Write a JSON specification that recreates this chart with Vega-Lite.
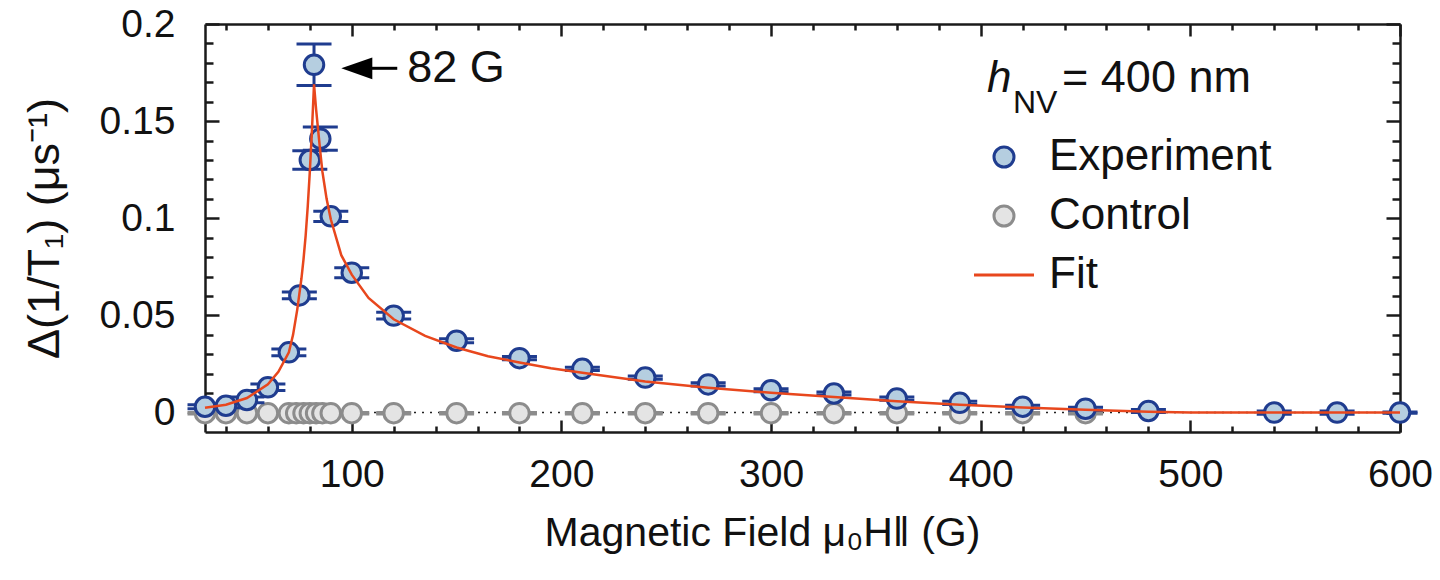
{
  "$schema": "https://vega.github.io/schema/vega-lite/v6.json",
  "width": 1195,
  "height": 408,
  "autosize": {"type": "none"},
  "padding": {"left": 205, "top": 24, "right": 40, "bottom": 148},
  "background": "white",
  "config": {"view": {"stroke": null}, "font": "Liberation Sans",
    "legend": {"orient": "none", "legendX": 777, "legendY": 111, "title": null, "padding": 0, "labelFontSize": 44, "labelFont": "Liberation Sans", "labelColor": "#111111", "labelLimit": 0, "symbolSize": 400, "symbolStrokeWidth": 3, "rowPadding": 15, "labelOffset": 23}},
  "datasets": {
    "experiment": [
      {"x": 30, "v": 0.003, "e": 0.001, "series": "Experiment"},
      {"x": 40, "v": 0.0035, "e": 0.001, "series": "Experiment"},
      {"x": 50, "v": 0.0065, "e": 0.0015, "series": "Experiment"},
      {"x": 60, "v": 0.013, "e": 0.0017, "series": "Experiment"},
      {"x": 70, "v": 0.031, "e": 0.0017, "series": "Experiment"},
      {"x": 75, "v": 0.0603, "e": 0.0017, "series": "Experiment"},
      {"x": 80, "v": 0.130, "e": 0.0047, "series": "Experiment"},
      {"x": 82, "v": 0.179, "e": 0.0107, "series": "Experiment"},
      {"x": 85, "v": 0.141, "e": 0.006, "series": "Experiment"},
      {"x": 90, "v": 0.101, "e": 0.0026, "series": "Experiment"},
      {"x": 100, "v": 0.072, "e": 0.0026, "series": "Experiment"},
      {"x": 120, "v": 0.0499, "e": 0.0018, "series": "Experiment"},
      {"x": 150, "v": 0.037, "e": 0.001, "series": "Experiment"},
      {"x": 180, "v": 0.028, "e": 0.0008, "series": "Experiment"},
      {"x": 210, "v": 0.0225, "e": 0.0008, "series": "Experiment"},
      {"x": 240, "v": 0.018, "e": 0.0008, "series": "Experiment"},
      {"x": 270, "v": 0.0145, "e": 0.0008, "series": "Experiment"},
      {"x": 300, "v": 0.0115, "e": 0.0008, "series": "Experiment"},
      {"x": 330, "v": 0.0098, "e": 0.0008, "series": "Experiment"},
      {"x": 360, "v": 0.0072, "e": 0.0008, "series": "Experiment"},
      {"x": 390, "v": 0.005, "e": 0.0008, "series": "Experiment"},
      {"x": 420, "v": 0.003, "e": 0.0008, "series": "Experiment"},
      {"x": 450, "v": 0.002, "e": 0.0008, "series": "Experiment"},
      {"x": 480, "v": 0.0008, "e": 0.0008, "series": "Experiment"},
      {"x": 540, "v": 0.0, "e": 0.0008, "series": "Experiment"},
      {"x": 570, "v": 0.0, "e": 0.0008, "series": "Experiment"},
      {"x": 600, "v": 0.0, "e": 0.0003, "series": "Experiment"}
    ],
    "control": [
      {"x": 30, "v": -0.0003, "e": 0.0004, "series": "Control"},
      {"x": 40, "v": -0.0003, "e": 0.0004, "series": "Control"},
      {"x": 50, "v": -0.0003, "e": 0.0004, "series": "Control"},
      {"x": 60, "v": -0.0003, "e": 0.0004, "series": "Control"},
      {"x": 70, "v": -0.0003, "e": 0.0004, "series": "Control"},
      {"x": 73.5, "v": -0.0003, "e": 0.0004, "series": "Control"},
      {"x": 77, "v": -0.0003, "e": 0.0004, "series": "Control"},
      {"x": 80, "v": -0.0003, "e": 0.0004, "series": "Control"},
      {"x": 83, "v": -0.0003, "e": 0.0004, "series": "Control"},
      {"x": 86, "v": -0.0003, "e": 0.0004, "series": "Control"},
      {"x": 90, "v": -0.0003, "e": 0.0004, "series": "Control"},
      {"x": 100, "v": -0.0003, "e": 0.0004, "series": "Control"},
      {"x": 120, "v": -0.0003, "e": 0.0004, "series": "Control"},
      {"x": 150, "v": -0.0003, "e": 0.0004, "series": "Control"},
      {"x": 180, "v": -0.0003, "e": 0.0004, "series": "Control"},
      {"x": 210, "v": -0.0003, "e": 0.0004, "series": "Control"},
      {"x": 240, "v": -0.0003, "e": 0.0004, "series": "Control"},
      {"x": 270, "v": -0.0003, "e": 0.0004, "series": "Control"},
      {"x": 300, "v": -0.0003, "e": 0.0004, "series": "Control"},
      {"x": 330, "v": -0.0003, "e": 0.0004, "series": "Control"},
      {"x": 360, "v": -0.0003, "e": 0.0004, "series": "Control"},
      {"x": 390, "v": -0.0003, "e": 0.0004, "series": "Control"},
      {"x": 420, "v": -0.0003, "e": 0.0004, "series": "Control"},
      {"x": 450, "v": -0.0003, "e": 0.0004, "series": "Control"}
    ],
    "fit": [
      {"x": 30, "v": 0.0025, "series": "Fit"},
      {"x": 40, "v": 0.004, "series": "Fit"},
      {"x": 50, "v": 0.0075, "series": "Fit"},
      {"x": 60, "v": 0.0145, "series": "Fit"},
      {"x": 65, "v": 0.021, "series": "Fit"},
      {"x": 70, "v": 0.031, "series": "Fit"},
      {"x": 72, "v": 0.040, "series": "Fit"},
      {"x": 74, "v": 0.053, "series": "Fit"},
      {"x": 75, "v": 0.061, "series": "Fit"},
      {"x": 76, "v": 0.069, "series": "Fit"},
      {"x": 77, "v": 0.079, "series": "Fit"},
      {"x": 78, "v": 0.091, "series": "Fit"},
      {"x": 79, "v": 0.106, "series": "Fit"},
      {"x": 80, "v": 0.124, "series": "Fit"},
      {"x": 81, "v": 0.145, "series": "Fit"},
      {"x": 82, "v": 0.169, "series": "Fit"},
      {"x": 83, "v": 0.156, "series": "Fit"},
      {"x": 84, "v": 0.145, "series": "Fit"},
      {"x": 85, "v": 0.134, "series": "Fit"},
      {"x": 86, "v": 0.124, "series": "Fit"},
      {"x": 87, "v": 0.117, "series": "Fit"},
      {"x": 88, "v": 0.110, "series": "Fit"},
      {"x": 90, "v": 0.0995, "series": "Fit"},
      {"x": 95, "v": 0.081, "series": "Fit"},
      {"x": 100, "v": 0.071, "series": "Fit"},
      {"x": 108, "v": 0.059, "series": "Fit"},
      {"x": 120, "v": 0.048, "series": "Fit"},
      {"x": 135, "v": 0.0395, "series": "Fit"},
      {"x": 150, "v": 0.0335, "series": "Fit"},
      {"x": 165, "v": 0.029, "series": "Fit"},
      {"x": 180, "v": 0.0258, "series": "Fit"},
      {"x": 195, "v": 0.0228, "series": "Fit"},
      {"x": 210, "v": 0.0205, "series": "Fit"},
      {"x": 240, "v": 0.016, "series": "Fit"},
      {"x": 270, "v": 0.0128, "series": "Fit"},
      {"x": 300, "v": 0.0102, "series": "Fit"},
      {"x": 330, "v": 0.008, "series": "Fit"},
      {"x": 360, "v": 0.0058, "series": "Fit"},
      {"x": 390, "v": 0.004, "series": "Fit"},
      {"x": 420, "v": 0.0026, "series": "Fit"},
      {"x": 450, "v": 0.0014, "series": "Fit"},
      {"x": 480, "v": 0.0004, "series": "Fit"},
      {"x": 500, "v": 0.0, "series": "Fit"},
      {"x": 540, "v": 0.0, "series": "Fit"},
      {"x": 600, "v": 0.0, "series": "Fit"}
    ]
  },
  "layer": [
    {
      "data": {"values": [{}]},
      "mark": {"type": "rule", "strokeDash": [2, 6], "color": "#222222", "strokeWidth": 1.5},
      "encoding": {
        "y": {"datum": 0, "type": "quantitative", "scale": {"domain": [-0.01, 0.2], "nice": false, "zero": false}, "axis": null}
      }
    },
    {
      "data": {"name": "control"},
      "mark": {"type": "errorbar", "color": "#8c8c8c", "ticks": {"size": 35, "thickness": 3, "opacity": 1}, "rule": {"strokeWidth": 3, "opacity": 1}},
      "encoding": {
        "x": {"field": "x", "type": "quantitative", "scale": {"domain": [30, 600], "nice": false, "zero": false}, "axis": null},
        "y": {"field": "v", "type": "quantitative", "scale": {"domain": [-0.01, 0.2], "nice": false, "zero": false}, "axis": null},
        "yError": {"field": "e"}
      }
    },
    {
      "data": {"name": "control"},
      "mark": {"type": "point", "shape": "circle", "filled": true, "size": 380, "strokeWidth": 3, "opacity": 1},
      "encoding": {
        "x": {"field": "x", "type": "quantitative", "scale": {"domain": [30, 600], "nice": false, "zero": false}, "axis": null},
        "y": {"field": "v", "type": "quantitative", "scale": {"domain": [-0.01, 0.2], "nice": false, "zero": false}, "axis": null},
        "fill": {"field": "series", "type": "nominal", "scale": {"domain": ["Experiment", "Control", "Fit"], "range": ["#b5cee0", "#e4e4e4", "transparent"]}},
        "stroke": {"field": "series", "type": "nominal", "scale": {"domain": ["Experiment", "Control", "Fit"], "range": ["#1f3c8f", "#8c8c8c", "#e8471d"]}},
        "shape": {"field": "series", "type": "nominal", "scale": {"domain": ["Experiment", "Control", "Fit"], "range": ["circle", "circle", "M-3,0L3,0"]}}
      }
    },
    {
      "data": {"name": "experiment"},
      "mark": {"type": "errorbar", "color": "#1f3c8f", "ticks": {"size": 35, "thickness": 3, "opacity": 1}, "rule": {"strokeWidth": 3, "opacity": 1}},
      "encoding": {
        "x": {"field": "x", "type": "quantitative", "scale": {"domain": [30, 600], "nice": false, "zero": false}, "axis": null},
        "y": {"field": "v", "type": "quantitative", "scale": {"domain": [-0.01, 0.2], "nice": false, "zero": false}, "axis": null},
        "yError": {"field": "e"}
      }
    },
    {
      "data": {"name": "experiment"},
      "mark": {"type": "point", "shape": "circle", "filled": true, "size": 380, "strokeWidth": 3, "opacity": 1},
      "encoding": {
        "x": {
          "field": "x", "type": "quantitative",
          "scale": {"domain": [30, 600], "nice": false, "zero": false},
          "axis": {
            "orient": "bottom",
            "values": [40, 60, 80, 100, 120, 140, 160, 180, 200, 220, 240, 260, 280, 300, 320, 340, 360, 380, 400, 420, 440, 460, 480, 500, 520, 540, 560, 580, 600],
            "labelExpr": "datum.value % 100 === 0 ? datum.label : ''",
            "tickSize": {"condition": {"test": "datum.value % 100 === 0", "value": -12}, "value": -6},
            "tickColor": "#1a1a1a", "tickWidth": 2.5,
            "domainColor": "#1a1a1a", "domainWidth": 2.5,
            "labelFontSize": 39, "labelColor": "#111111", "labelFont": "Liberation Sans",
            "labelPadding": 35, "labelFlush": false, "labelOverlap": false, "labelBound": false,
            "grid": false,
            "title": "Magnetic Field μ₀H‖ (G)",
            "titleFontSize": 41, "titleFontWeight": "normal", "titleColor": "#111111", "titleFont": "Liberation Sans",
            "titlePadding": 13, "titleX": 557, "titleAlign": "center"
          }
        },
        "y": {
          "field": "v", "type": "quantitative",
          "scale": {"domain": [-0.01, 0.2], "nice": false, "zero": false},
          "axis": {
            "orient": "left",
            "values": [0, 0.01, 0.02, 0.03, 0.04, 0.05, 0.06, 0.07, 0.08, 0.09, 0.1, 0.11, 0.12, 0.13, 0.14, 0.15, 0.16, 0.17, 0.18, 0.19, 0.2],
            "labelExpr": "abs(datum.value*20 - round(datum.value*20)) < 0.001 ? format(datum.value, '~g') : ''",
            "tickSize": {"condition": {"test": "abs(datum.value*20 - round(datum.value*20)) < 0.001", "value": -14}, "value": -8},
            "tickColor": "#1a1a1a", "tickWidth": 2.5,
            "domainColor": "#1a1a1a", "domainWidth": 2.5,
            "labelFontSize": 39, "labelColor": "#111111", "labelFont": "Liberation Sans",
            "labelPadding": 44, "labelFlush": false, "labelOverlap": false, "labelBound": false,
            "grid": false,
            "title": "Δ(1/T₁) (μs⁻¹)",
            "titleFontSize": 45, "titleFontWeight": "normal", "titleColor": "#111111", "titleFont": "Liberation Sans",
            "titlePadding": 32
          }
        },
        "fill": {"field": "series", "type": "nominal", "scale": {"domain": ["Experiment", "Control", "Fit"], "range": ["#b5cee0", "#e4e4e4", "transparent"]}},
        "stroke": {"field": "series", "type": "nominal", "scale": {"domain": ["Experiment", "Control", "Fit"], "range": ["#1f3c8f", "#8c8c8c", "#e8471d"]}},
        "shape": {"field": "series", "type": "nominal", "scale": {"domain": ["Experiment", "Control", "Fit"], "range": ["circle", "circle", "M-3,0L3,0"]}}
      }
    },
    {
      "data": {"name": "fit"},
      "mark": {"type": "line", "strokeWidth": 2.5},
      "encoding": {
        "x": {
          "field": "x", "type": "quantitative",
          "scale": {"domain": [30, 600], "nice": false, "zero": false},
          "axis": {
            "orient": "top",
            "values": [40, 60, 80, 100, 120, 140, 160, 180, 200, 220, 240, 260, 280, 300, 320, 340, 360, 380, 400, 420, 440, 460, 480, 500, 520, 540, 560, 580, 600],
            "labels": false, "title": null, "grid": false,
            "tickSize": {"condition": {"test": "datum.value % 100 === 0", "value": -12}, "value": -6},
            "tickColor": "#1a1a1a", "tickWidth": 2.5,
            "domainColor": "#1a1a1a", "domainWidth": 2.5
          }
        },
        "y": {
          "field": "v", "type": "quantitative",
          "scale": {"domain": [-0.01, 0.2], "nice": false, "zero": false},
          "axis": {
            "orient": "right",
            "values": [0, 0.01, 0.02, 0.03, 0.04, 0.05, 0.06, 0.07, 0.08, 0.09, 0.1, 0.11, 0.12, 0.13, 0.14, 0.15, 0.16, 0.17, 0.18, 0.19, 0.2],
            "labels": false, "title": null, "grid": false,
            "tickSize": {"condition": {"test": "abs(datum.value*20 - round(datum.value*20)) < 0.001", "value": -14}, "value": -8},
            "tickColor": "#1a1a1a", "tickWidth": 2.5,
            "domainColor": "#1a1a1a", "domainWidth": 2.5
          }
        },
        "stroke": {"field": "series", "type": "nominal", "scale": {"domain": ["Experiment", "Control", "Fit"], "range": ["#1f3c8f", "#8c8c8c", "#e8471d"]}}
      }
    },
    {
      "data": {"values": [{}]},
      "mark": {"type": "point", "shape": "M-1,0L1,-0.7L1,0.7Z", "filled": true, "color": "#000000", "opacity": 1, "size": 961},
      "encoding": {
        "x": {"datum": 102.4, "type": "quantitative", "axis": null},
        "y": {"datum": 0.1772, "type": "quantitative", "axis": null}
      }
    },
    {
      "data": {"values": [{}]},
      "mark": {"type": "rule", "color": "#000000", "strokeWidth": 3},
      "encoding": {
        "x": {"datum": 108, "type": "quantitative", "axis": null},
        "x2": {"datum": 121.7},
        "y": {"datum": 0.1772, "type": "quantitative", "axis": null}
      }
    },
    {
      "data": {"values": [{}]},
      "mark": {"type": "text", "text": "82 G", "align": "left", "baseline": "middle", "fontSize": 45, "font": "Liberation Sans", "color": "#111111"},
      "encoding": {
        "x": {"datum": 126.5, "type": "quantitative", "axis": null},
        "y": {"datum": 0.1772, "type": "quantitative", "axis": null}
      }
    },
    {
      "data": {"values": [{}]},
      "mark": {"type": "text", "text": "h", "align": "left", "baseline": "alphabetic", "fontSize": 44, "fontStyle": "italic", "font": "Liberation Sans", "color": "#111111"},
      "encoding": {
        "x": {"datum": 403, "type": "quantitative", "axis": null},
        "y": {"datum": 0.165, "type": "quantitative", "axis": null}
      }
    },
    {
      "data": {"values": [{}]},
      "mark": {"type": "text", "text": "NV", "align": "left", "baseline": "alphabetic", "fontSize": 32, "font": "Liberation Sans", "color": "#111111"},
      "encoding": {
        "x": {"datum": 415.4, "type": "quantitative", "axis": null},
        "y": {"datum": 0.1542, "type": "quantitative", "axis": null}
      }
    },
    {
      "data": {"values": [{}]},
      "mark": {"type": "text", "text": "= 400 nm", "align": "left", "baseline": "alphabetic", "fontSize": 45, "font": "Liberation Sans", "color": "#111111"},
      "encoding": {
        "x": {"datum": 438.8, "type": "quantitative", "axis": null},
        "y": {"datum": 0.165, "type": "quantitative", "axis": null}
      }
    }
  ]
}
